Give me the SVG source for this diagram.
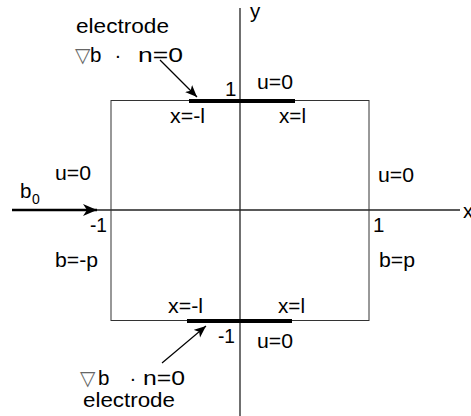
<svg xmlns="http://www.w3.org/2000/svg" width="471" height="416" viewBox="0 0 471 416">
<style>
text{font-family:"Liberation Sans","DejaVu Sans",Arial,sans-serif;font-size:20.5px;fill:#000}
.sym{font-family:"DejaVu Sans","Liberation Sans",sans-serif;font-size:20px;fill:#666}
.ax{stroke:#222;stroke-width:1.3;fill:none}
.box{stroke:#333;stroke-width:1;fill:none}
.el{stroke:#000;stroke-width:4;stroke-linecap:butt}
.arr{stroke:#000;stroke-width:1.2;fill:none}
</style>
<defs>
<marker id="ah" markerUnits="userSpaceOnUse" markerWidth="14" markerHeight="12" refX="12" refY="5" orient="auto">
<path d="M0,0 L12,5 L0,10 L3,5 z" fill="#000"/>
</marker>
<marker id="ah2" markerUnits="userSpaceOnUse" markerWidth="16" markerHeight="14" refX="14" refY="6" orient="auto">
<path d="M0,0 L14,6 L0,12 L4,6 z" fill="#000"/>
</marker>
</defs>
<g id="axes">
<line class="ax" x1="240" y1="8" x2="240" y2="416"/>
<line class="ax" x1="97" y1="210" x2="460" y2="210"/>
<text x="250" y="18">y</text>
<text x="463" y="218">x</text>
</g>
<g id="domain">
<rect class="box" x="111" y="100.5" width="258" height="220"/>
<text x="225" y="96">1</text>
<text x="90" y="232" textLength="17" lengthAdjust="spacingAndGlyphs">-1</text>
<text x="373" y="232">1</text>
<text x="218" y="343" textLength="17" lengthAdjust="spacingAndGlyphs">-1</text>
</g>
<g id="electrode-top">
<line class="el" x1="189" y1="101" x2="295" y2="101"/>
<text x="76" y="33" textLength="93" lengthAdjust="spacingAndGlyphs">electrode</text>
<text class="sym" x="75" y="62">▽</text>
<text x="90" y="62">b</text>
<text x="118" y="62" text-anchor="middle">·</text>
<text x="138" y="62" textLength="45" lengthAdjust="spacingAndGlyphs">n=0</text>
<text x="257" y="89" textLength="36" lengthAdjust="spacingAndGlyphs">u=0</text>
<text x="170" y="123" textLength="35" lengthAdjust="spacingAndGlyphs">x=-l</text>
<text x="279" y="123" textLength="27" lengthAdjust="spacingAndGlyphs">x=l</text>
</g>
<g id="electrode-bottom">
<line class="el" x1="187" y1="321" x2="292" y2="321"/>
<text x="168" y="313" textLength="35" lengthAdjust="spacingAndGlyphs">x=-l</text>
<text x="278" y="313" textLength="27" lengthAdjust="spacingAndGlyphs">x=l</text>
<text x="257" y="348" textLength="36" lengthAdjust="spacingAndGlyphs">u=0</text>
<text class="sym" x="80" y="385">▽</text>
<text x="98" y="385">b</text>
<text x="133" y="385" text-anchor="middle">·</text>
<text x="143" y="385" textLength="42" lengthAdjust="spacingAndGlyphs">n=0</text>
<text x="83" y="407" textLength="92" lengthAdjust="spacingAndGlyphs">electrode</text>
</g>
<g id="left-boundary">
<text x="55" y="180" textLength="36" lengthAdjust="spacingAndGlyphs">u=0</text>
<text x="20" y="198">b</text>
<text x="32" y="204" style="font-size:14px">0</text>
<text x="55" y="267" textLength="43" lengthAdjust="spacingAndGlyphs">b=-p</text>
</g>
<g id="right-boundary">
<text x="378" y="182" textLength="36" lengthAdjust="spacingAndGlyphs">u=0</text>
<text x="379" y="267" textLength="36" lengthAdjust="spacingAndGlyphs">b=p</text>
</g>
<g id="connectors">
<line x1="12" y1="210" x2="97" y2="210" stroke="#000" stroke-width="2.5" marker-end="url(#ah2)"/>
<line class="arr" x1="160" y1="60" x2="197" y2="97" marker-end="url(#ah)"/>
<line class="arr" x1="162" y1="363" x2="206" y2="326" marker-end="url(#ah)"/>
</g>
</svg>
